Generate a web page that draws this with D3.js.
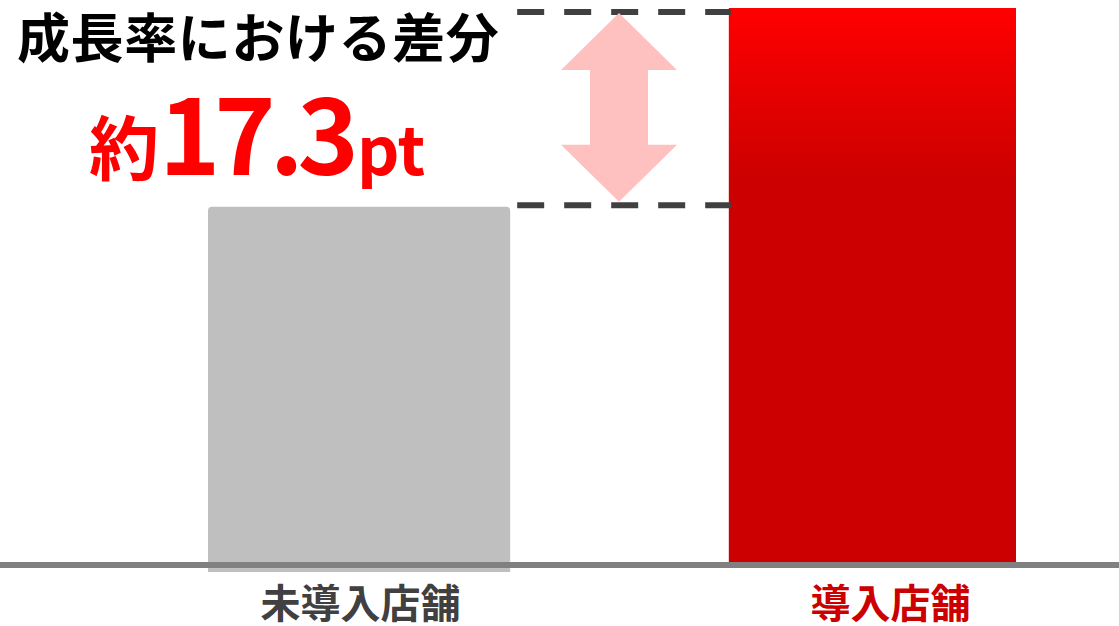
<!DOCTYPE html>
<html>
<head>
<meta charset="utf-8">
<script src="https://cdn.jsdelivr.net/npm/d3@7"></script>
<style>
  html, body { margin: 0; padding: 0; background: #fff; }
  svg { display: block; }
  text { font-family: "Noto Sans CJK JP", "Noto Sans", sans-serif; font-weight: 700; }
</style>
</head>
<body>
<svg id="chart" width="1119" height="626"></svg>
<script>
// Store categories and growth-rate values (pt)
const categories = ["未導入店舗", "導入店舗"];
const growthRates = [30.9, 48.2];
const diffLabel = "17.3";
const titleText = "成長率における差分";

const W = 1119, H = 626;
const baseY = 562;
const svg = d3.select("#chart");

const x = d3.scaleBand()
  .domain(categories)
  .range([211, 1020])
  .paddingInner(0.4255)
  .paddingOuter(0);

const y = d3.scaleLinear()
  .domain([0, d3.max(growthRates)])
  .range([baseY, 8]);

const data = categories.map((c, i) => ({ cat: c, value: growthRates[i] }));

// Gradient for the highlighted bar
const defs = svg.append("defs");
const grad = defs.append("linearGradient")
  .attr("id", "redGrad")
  .attr("gradientUnits", "userSpaceOnUse")
  .attr("x1", 0).attr("x2", 0)
  .attr("y1", y(growthRates[1])).attr("y2", 180);
grad.append("stop").attr("offset", "0%").attr("stop-color", "#ff0000");
grad.append("stop").attr("offset", "100%").attr("stop-color", "#cc0000");

// Bars
const bw = x.bandwidth();
svg.append("path")
  .attr("d", () => {
    const d = data[0];
    const x0 = x(d.cat) - 3, x1 = x0 + bw + 7, top = y(d.value), bot = baseY + 10, r = 4;
    return `M${x0},${bot}V${top + r}Q${x0},${top} ${x0 + r},${top}H${x1 - r}Q${x1},${top} ${x1},${top + r}V${bot}Z`;
  })
  .attr("fill", "#bfbfbf");

svg.append("rect")
  .attr("x", x(data[1].cat) + 4)
  .attr("y", y(data[1].value))
  .attr("width", bw - 8)
  .attr("height", baseY - y(data[1].value))
  .attr("fill", "url(#redGrad)");

// Baseline
svg.append("line")
  .attr("x1", 0).attr("x2", W)
  .attr("y1", baseY + 3).attr("y2", baseY + 3)
  .attr("stroke", "#808080")
  .attr("stroke-width", 6);

// Dashed guide lines at each bar's top
const gx0 = x(categories[0]) + bw + 11;
const gx1 = x(categories[1]) + 6;
[y(growthRates[1]) + 4, y(growthRates[0]) - 1.5].forEach(yy => {
  svg.append("line")
    .attr("x1", gx0).attr("x2", gx1)
    .attr("y1", yy).attr("y2", yy)
    .attr("stroke", "#404040")
    .attr("stroke-width", 6)
    .attr("stroke-dasharray", "27 20");
});

// Double-headed arrow between the two levels
const ax = (x(categories[0]) + bw + x(categories[1])) / 2 + 3.5;
const aTop = y(growthRates[1]) + 5, aBot = y(growthRates[0]) - 5;
const hw = 58, sw = 29, hh = 57;
svg.append("path")
  .attr("d", `M${ax},${aTop}L${ax + hw},${aTop + hh}H${ax + sw}V${aBot - hh}H${ax + hw}L${ax},${aBot}L${ax - hw},${aBot - hh}H${ax - sw}V${aTop + hh}H${ax - hw}Z`)
  .attr("fill", "#ffc0c0");

// Title and difference label
svg.append("text")
  .attr("x", 17).attr("y", 58)
  .attr("font-size", 53)
  .attr("letter-spacing", 0.6)
  .attr("fill", "#000")
  .text(titleText);

const lbl = svg.append("text")
  .attr("x", 89).attr("y", 175)
  .attr("fill", "#ff0000");
lbl.append("tspan").attr("font-size", 70).text("約");
lbl.append("tspan").attr("font-size", 104).attr("letter-spacing", -6).text(diffLabel);
lbl.append("tspan").attr("font-size", 66).attr("dx", 4).text("pt");

// Category labels
const labelColors = ["#404040", "#cc0000"];
const labelShift = [2, 18];
svg.selectAll("text.cat")
  .data(data)
  .join("text")
  .attr("class", "cat")
  .attr("x", (d, i) => x(d.cat) + bw / 2 + labelShift[i])
  .attr("y", 618)
  .attr("text-anchor", "middle")
  .attr("font-size", 40)
  .attr("fill", (d, i) => labelColors[i])
  .text(d => d.cat);
</script>
</body>
</html>
